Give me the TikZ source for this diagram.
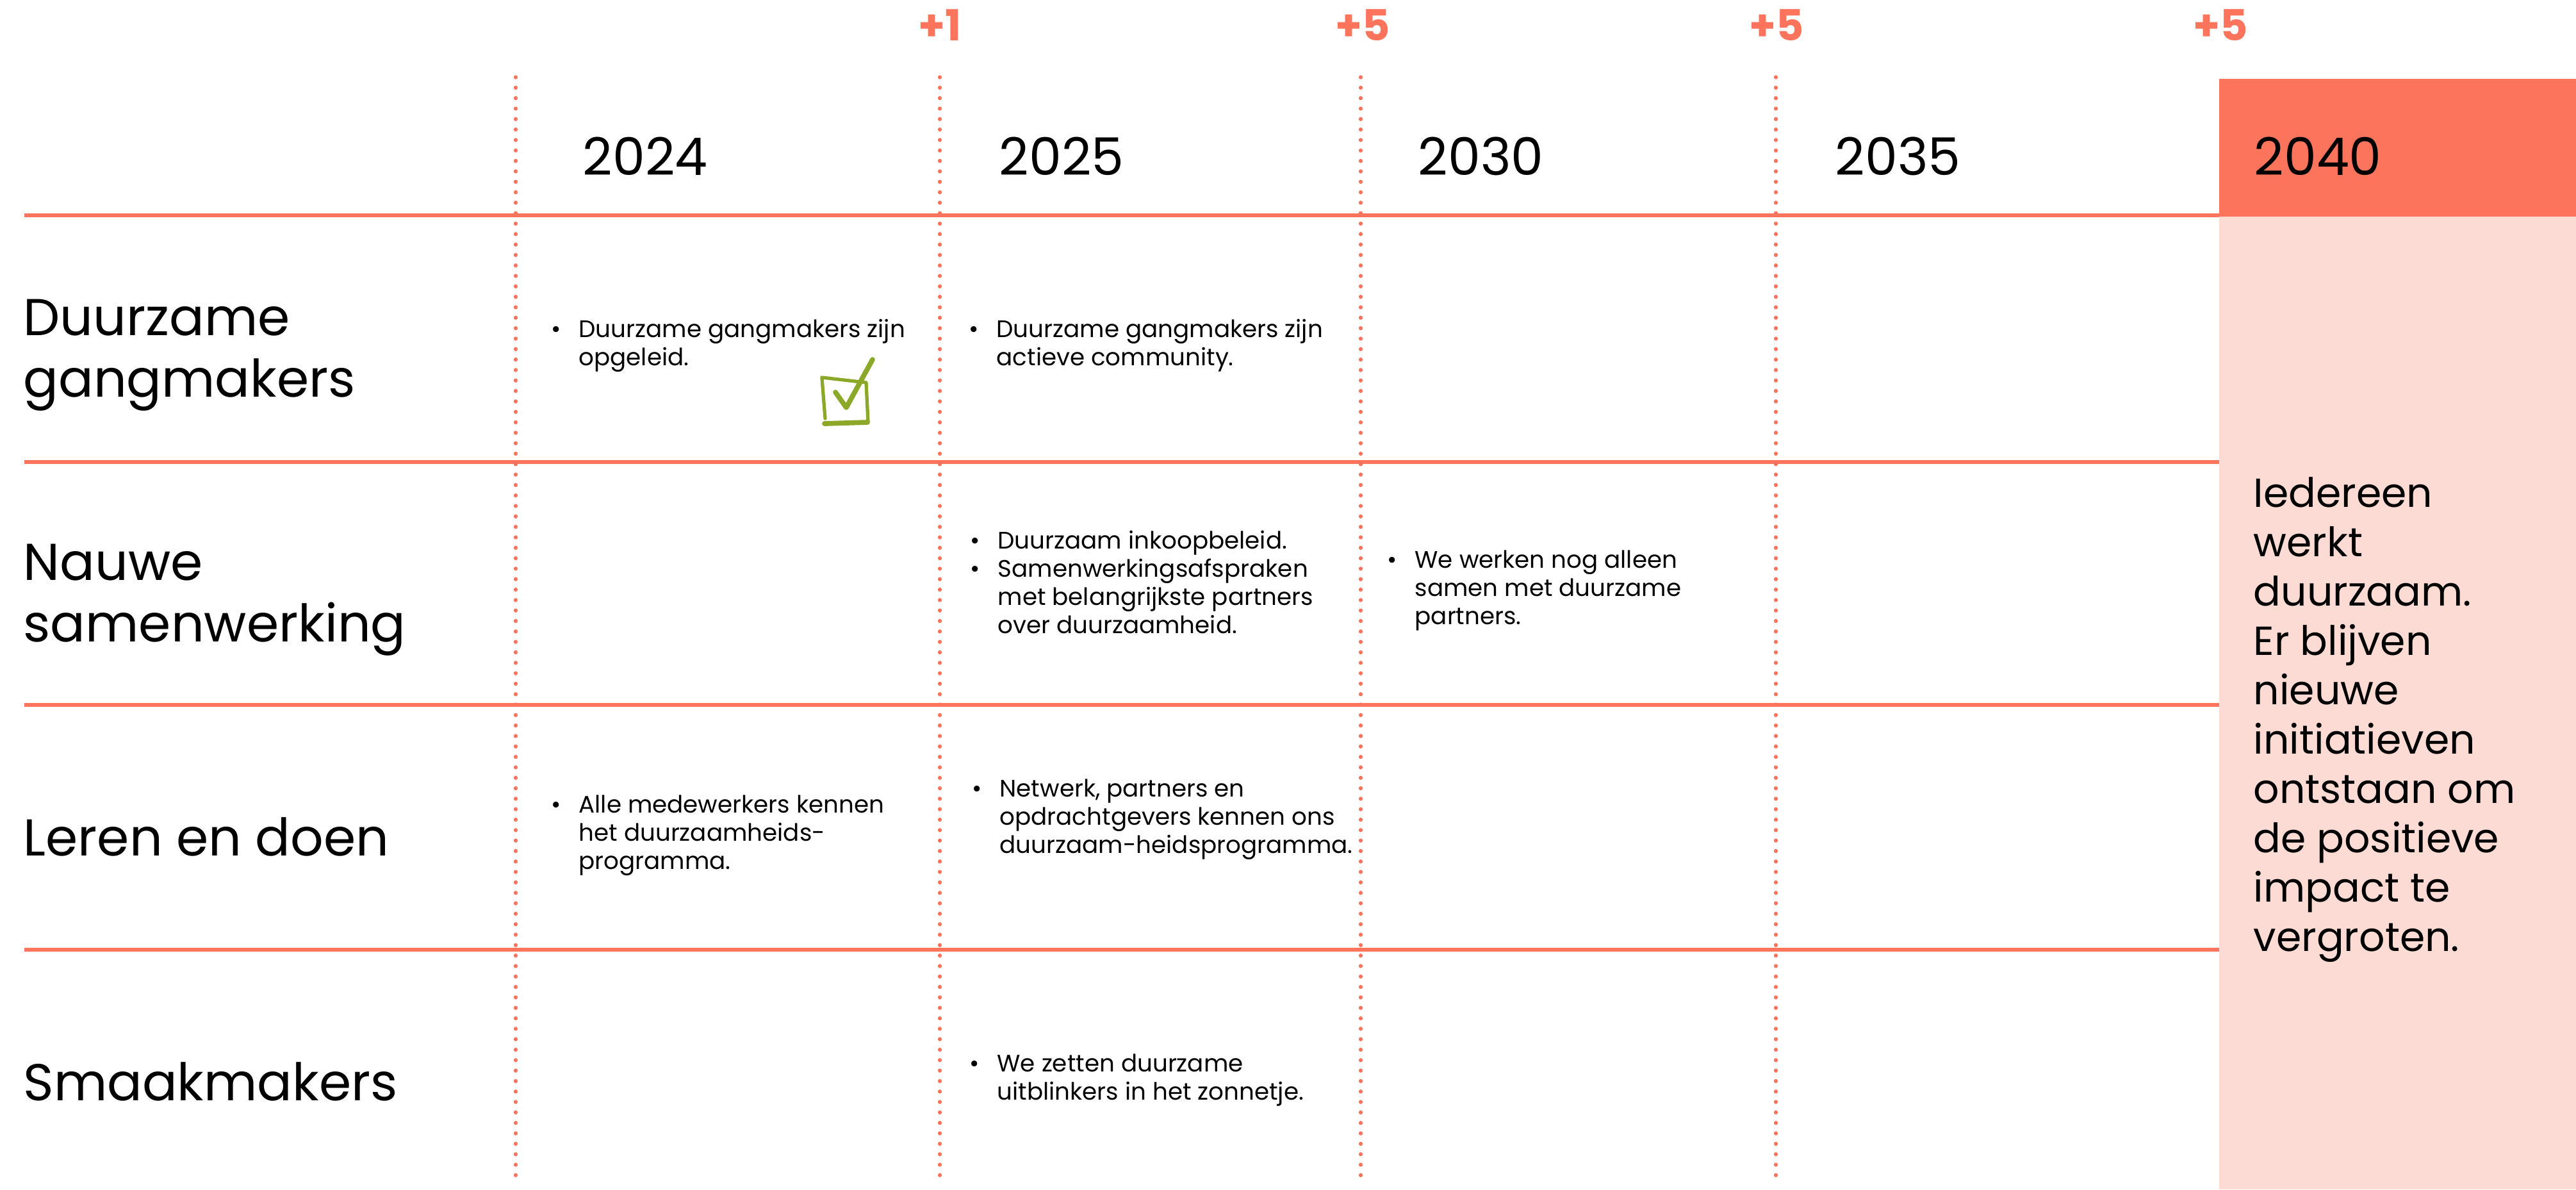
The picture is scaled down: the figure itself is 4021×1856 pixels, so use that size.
\documentclass[tikz,border=0pt]{standalone}
\usepackage{fontspec}
\setmainfont{Poppins}
\usepackage{xcolor}
\definecolor{accent}{RGB}{253,116,92}
\definecolor{blush}{RGB}{252,219,212}
\definecolor{tick}{RGB}{140,168,40}
\newcommand{\rowrule}[1] % y in px
{
	\draw[accent, line width=1.45pt] (38,#1) -- (3464,#1);
}
\newcommand{\dotcol}[1] % x in px
{
	\draw[accent, line width=1.5pt, line cap=round, dash pattern=on 0.3pt off 4.34pt] (#1,120) -- (#1,1848);
}
\newcommand{\lines}[1] % stacked lines, baseline = first line
{\begin{tabular}[t]{@{}l@{}}#1\end{tabular}}
\newcommand{\bullets}[1] % bullet column + text column
{\begin{tabular}[t]{@{}p{12.2pt}@{}l@{}}#1\end{tabular}}

\begin{document}
\begin{tikzpicture}[x=0.01cm, y=-0.01cm, every node/.style={inner sep=0pt},
	year/.style={anchor=base west, font=\fontsize{23}{27}\selectfont},
	plus/.style={anchor=base, text=accent, font=\fontsize{19}{22}\selectfont\bfseries},
	rowlabel/.style={anchor=base west, font=\fontsize{23}{27.3}\selectfont},
	item/.style={anchor=base west, font=\fontsize{10.6}{12.52}\selectfont},
	goal/.style={anchor=base west, font=\fontsize{18}{21.9}\selectfont}]
	% canvas 4021 x 1856 px, 1px = 0.01cm
	\useasboundingbox (0,0) rectangle (4021,1856);
	
	% goal column 2040
	\fill[blush] (3464,336) rectangle (4021,1856);
	\fill[accent] (3464,123) rectangle (4021,338);
	
	% row rules
	\rowrule{336};
	\rowrule{721};
	\rowrule{1100};
	\rowrule{1482};
	
	% column separators
	\dotcol{805};
	\dotcol{1467};
	\dotcol{2124};
	\dotcol{2772};
	
	% years
	\node[year] (y2024) at (909,273) {2024};
	\node[year] (y2025) at (1559,273) {2025};
	\node[year] (y2030) at (2213,273) {2030};
	\node[year] (y2035) at (2864,273) {2035};
	\node[year] (y2040) at (3518,273) {2040};
	
	% steps between years
	\node[plus] (s1) at (1467,63) {+1};
	\node[plus] (s2) at (2127,63) {+5};
	\node[plus] (s3) at (2773,63) {+5};
	\node[plus] (s4) at (3466,63) {+5};
	
	% row labels
	\node[rowlabel] (r1) at (36,523) {\lines{Duurzame\\gangmakers}};
	\node[rowlabel] (r2) at (36,905) {\lines{Nauwe\\samenwerking}};
	\node[rowlabel] (r3) at (36,1335) {Leren en doen};
	\node[rowlabel] (r4) at (36,1717) {Smaakmakers};
	
	% cells
	\node[item] (c11) at (860,526) {\bullets{\textbullet & Duurzame gangmakers zijn\\ & opgeleid.}};
	\node[item] (c12) at (1512,526) {\bullets{\textbullet & Duurzame gangmakers zijn\\ & actieve community.}};
	\node[item] (c22) at (1514,856) {\bullets{\textbullet & Duurzaam inkoopbeleid.\\ \textbullet & Samenwerkingsafspraken\\ & met belangrijkste partners\\ & over duurzaamheid.}};
	\node[item] (c23) at (2165,886) {\bullets{\textbullet & We werken nog alleen\\ & samen met duurzame\\ & partners.}};
	\node[item] (c31) at (860,1268) {\bullets{\textbullet & Alle medewerkers kennen\\ & het duurzaamheids-\\ & programma.}};
	\node[item] (c32) at (1517,1243) {\bullets{\textbullet & Netwerk, partners en\\ & opdrachtgevers kennen ons\\ & duurzaam-heidsprogramma.}};
	\node[item] (c42) at (1513,1672) {\bullets{\textbullet & We zetten duurzame\\ & uitblinkers in het zonnetje.}};
	
	% hand drawn check
	\draw[tick, line width=1.5pt, line cap=round, line join=round] (1283,589) -- (1352,597) -- (1355,659);
	\draw[tick, line width=1.5pt, line cap=round] (1283,590) -- (1288,653);
	\draw[tick, line width=2.2pt, line cap=round] (1287,661) -- (1354,659);
	\draw[tick, line width=2.2pt, line cap=round, line join=round] (1304,612) -- (1321,636) -- (1362,561);
	
	% goal text
	\node[goal] (goal) at (3517,791) {\lines{Iedereen\\werkt\\duurzaam.\\Er blijven\\nieuwe\\initiatieven\\ontstaan om\\de positieve\\impact te\\vergroten.}};
\end{tikzpicture}
\end{document}
